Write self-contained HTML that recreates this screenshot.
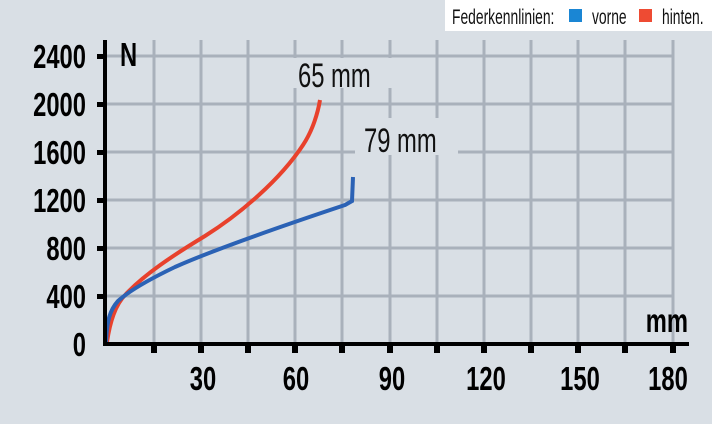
<!DOCTYPE html>
<html><head><meta charset="utf-8"><style>
html,body{margin:0;padding:0;background:#d9dfe5;width:712px;height:424px;overflow:hidden}
svg{display:block}
.b{font-family:"Liberation Sans",sans-serif;font-weight:bold;fill:#000}
.n{font-family:"Liberation Sans",sans-serif;fill:#111}
</style></head><body>
<svg width="712" height="424" viewBox="0 0 712 424">
<rect width="712" height="424" fill="#d9dfe5"/>
<g stroke="#a9b1bb" stroke-width="3">
<line x1="154" y1="40" x2="154" y2="344"/><line x1="201" y1="40" x2="201" y2="344"/>
<line x1="248" y1="40" x2="248" y2="344"/><line x1="295" y1="40" x2="295" y2="344"/>
<line x1="342" y1="40" x2="342" y2="344"/><line x1="390" y1="40" x2="390" y2="344"/>
<line x1="437" y1="40" x2="437" y2="344"/><line x1="484" y1="40" x2="484" y2="344"/>
<line x1="531" y1="40" x2="531" y2="344"/><line x1="578" y1="40" x2="578" y2="344"/>
<line x1="625" y1="40" x2="625" y2="344"/><line x1="673" y1="40" x2="673" y2="344"/>
<line x1="106" y1="56" x2="673" y2="56"/><line x1="106" y1="104" x2="673" y2="104"/>
<line x1="106" y1="152" x2="673" y2="152"/><line x1="106" y1="200" x2="673" y2="200"/>
<line x1="106" y1="248" x2="673" y2="248"/><line x1="106" y1="296" x2="673" y2="296"/>
</g>
<rect x="289" y="58" width="103" height="30" fill="#d9dfe5"/>
<rect x="355" y="118" width="103" height="37" fill="#d9dfe5"/>
<text class="n" x="298" y="87" font-size="34" transform="translate(298 0) scale(0.7 1) translate(-298 0)">65 mm</text>
<text class="n" x="364" y="152" font-size="34" transform="translate(364 0) scale(0.7 1) translate(-364 0)">79 mm</text>
<path d="M107,342 C110,322 115,305 126,294 C145,274 172,256 205,236 C240,214 280,180 303,145 C313,130 318,112 320,100" fill="none" stroke="#e8412c" stroke-width="4"/>
<path d="M106,342 C107,320 110,310 118,301 C130,290 150,279 175,267 C220,247 300,220 345,205 L352,201 L353,177" fill="none" stroke="#2b62b5" stroke-width="4"/>
<g stroke="#000">
<line x1="105" y1="40" x2="105" y2="346" stroke-width="4"/>
<line x1="103" y1="344" x2="689" y2="344" stroke-width="4"/>
</g>
<g fill="#000">
<rect x="97" y="54" width="8" height="5"/><rect x="97" y="102" width="8" height="5"/>
<rect x="97" y="150" width="8" height="5"/><rect x="97" y="198" width="8" height="5"/>
<rect x="97" y="246" width="8" height="5"/><rect x="97" y="294" width="8" height="5"/>
<rect x="151" y="344" width="6" height="9"/><rect x="198" y="344" width="6" height="9"/>
<rect x="245" y="344" width="6" height="9"/><rect x="292" y="344" width="6" height="9"/>
<rect x="339" y="344" width="6" height="9"/><rect x="387" y="344" width="6" height="9"/>
<rect x="434" y="344" width="6" height="9"/><rect x="481" y="344" width="6" height="9"/>
<rect x="528" y="344" width="6" height="9"/><rect x="575" y="344" width="6" height="9"/>
<rect x="622" y="344" width="6" height="9"/><rect x="670" y="344" width="6" height="9"/>
</g>
<g transform="translate(86 0) scale(0.72 1) translate(-86 0)">
<g class="b" font-size="33" text-anchor="end">
<text x="86" y="68">2400</text><text x="86" y="116">2000</text><text x="86" y="164">1600</text>
<text x="86" y="212">1200</text><text x="86" y="260">800</text><text x="86" y="308">400</text>
<text x="86" y="356">0</text>
</g></g>
<text class="b" x="120" y="66" font-size="33" transform="translate(120 0) scale(0.72 1) translate(-120 0)">N</text>
<text class="b" x="688" y="332" font-size="33" text-anchor="end" transform="translate(688 0) scale(0.72 1) translate(-688 0)">mm</text>
<g class="b" font-size="33" text-anchor="middle">
<text x="203" y="390" transform="translate(203 0) scale(0.72 1) translate(-203 0)">30</text>
<text x="296" y="390" transform="translate(296 0) scale(0.72 1) translate(-296 0)">60</text>
<text x="392" y="390" transform="translate(392 0) scale(0.72 1) translate(-392 0)">90</text>
<text x="486" y="390" transform="translate(486 0) scale(0.72 1) translate(-486 0)">120</text>
<text x="580" y="390" transform="translate(580 0) scale(0.72 1) translate(-580 0)">150</text>
<text x="668" y="390" transform="translate(668 0) scale(0.72 1) translate(-668 0)">180</text>
</g>
<rect x="445" y="0" width="267" height="31" fill="#fff"/>
<text class="n" x="452" y="24" font-size="21" transform="translate(452 0) scale(0.66 1) translate(-452 0)">Federkennlinien:</text>
<rect x="569" y="9" width="13" height="13" fill="#1a86d4"/>
<text class="n" x="592" y="24" font-size="21" transform="translate(592 0) scale(0.66 1) translate(-592 0)">vorne</text>
<rect x="639" y="9" width="13" height="13" fill="#ee4b33"/>
<text class="n" x="662" y="24" font-size="21" transform="translate(662 0) scale(0.66 1) translate(-662 0)">hinten.</text>
</svg>
</body></html>
